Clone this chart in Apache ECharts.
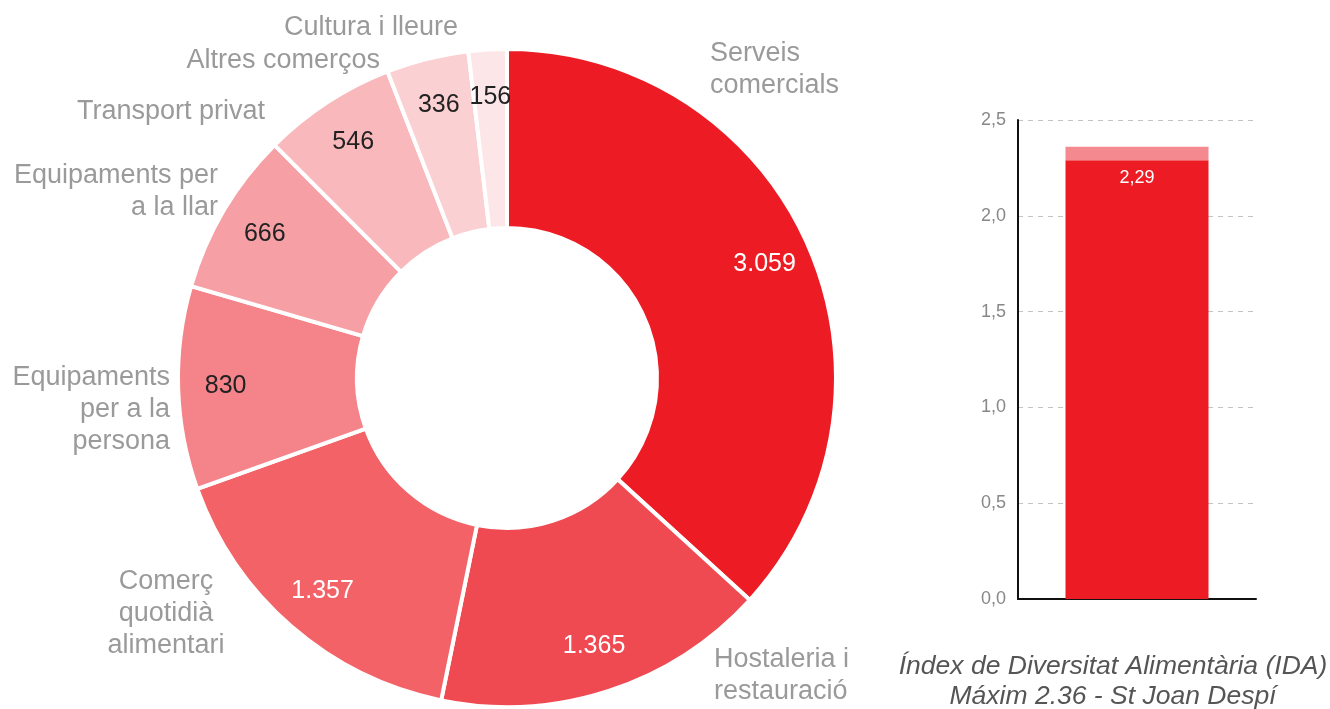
<!DOCTYPE html>
<html>
<head>
<meta charset="utf-8">
<title>Activitats comercials - St Joan Despí</title>
<script src="https://cdn.jsdelivr.net/npm/echarts@6/dist/echarts.min.js"></script>
<style>
  html, body { margin: 0; padding: 0; background: #fff; }
  #chart { width: 1330px; height: 709px; }
</style>
</head>
<body>
<div id="chart"></div>
<script>
// dades del donut (sentit horari des de dalt)
const categories = [
  "Serveis\ncomercials",
  "Hostaleria i\nrestauració",
  "Comerç\nquotidià\nalimentari",
  "Equipaments\nper a la\npersona",
  "Equipaments per\na la llar",
  "Transport privat",
  "Altres comerços",
  "Cultura i lleure"
];
const values = [3059, 1365, 1357, 830, 666, 546, 336, 156];
const sliceColors = ["#ed1c24", "#ef4a52", "#f26267", "#f4838a", "#f6a0a5", "#f9b8bb", "#fbd0d2", "#fde6e7"];
const valueColors = ["#fff", "#fff", "#fff", "#222", "#222", "#222", "#222", "#222"];
// on va cada etiqueta de nom: [x, y, align]
const nameAnchors = [
  [710, 70, "left"],
  [714, 676, "left"],
  [166, 614, "center"],
  [170, 410, "right"],
  [218, 192, "right"],
  [265, 112, "right"],
  [380, 61, "right"],
  [458, 28, "right"]
];

// dades de l'índex IDA
const idaCategory = ["IDA"];
const idaValue = [2.29];
const idaToMax = [0.07];
const yTicks = [0, 0.5, 1, 1.5, 2, 2.5];

const font = "'Liberation Sans', Arial, sans-serif";

function fmtThousands(v) {
  if (v < 1000) return String(v);
  return Math.floor(v / 1000) + "." + String(v % 1000).padStart(3, "0");
}

const chart = echarts.init(document.getElementById("chart"));

chart.setOption({
  animation: false,
  textStyle: { fontFamily: font },
  title: {
    text: "Índex de Diversitat Alimentària (IDA)\nMáxim 2.36 - St Joan Despí",
    left: 1108,
    top: 647,
    textAlign: "center",
    textStyle: {
      fontFamily: font,
      fontStyle: "italic",
      fontWeight: "normal",
      fontSize: 26.5,
      lineHeight: 30,
      color: "#555"
    }
  },
  grid: { left: 1018, top: 120, width: 238, height: 479 },
  xAxis: {
    type: "category",
    data: idaCategory,
    axisLine: { lineStyle: { color: "#111", width: 2 } },
    axisTick: { show: false },
    axisLabel: { show: false }
  },
  yAxis: {
    type: "value",
    min: yTicks[0],
    max: yTicks[yTicks.length - 1],
    interval: 0.5,
    axisLine: { show: true, lineStyle: { color: "#111", width: 2 } },
    axisTick: { show: false },
    axisLabel: {
      color: "#888",
      fontSize: 18,
      margin: 12,
      formatter: (v) => v.toFixed(1).replace(".", ",")
    },
    splitLine: { lineStyle: { color: "#c4c4c4", type: [5, 5], width: 1 } }
  },
  series: [
    {
      type: "pie",
      center: [507, 378],
      radius: [150, 329],
      startAngle: 90,
      clockwise: true,
      avoidLabelOverlap: false,
      silent: true,
      itemStyle: { borderColor: "#fff", borderWidth: 4 },
      label: {
        show: true,
        position: "outside",
        formatter: "{b}",
        color: "#9a9a9a",
        fontSize: 27,
        lineHeight: 32
      },
      labelLine: { show: false },
      labelLayout: (p) => {
        const a = nameAnchors[p.dataIndex];
        return { x: a[0], y: a[1], align: a[2], verticalAlign: "middle", hideOverlap: false };
      },
      data: categories.map((c, i) => ({
        name: c,
        value: values[i],
        itemStyle: { color: sliceColors[i] }
      }))
    },
    {
      // capa transparent només per a les xifres
      type: "pie",
      center: [507, 378],
      radius: [230, 327],
      startAngle: 90,
      clockwise: true,
      silent: true,
      z: 5,
      itemStyle: { color: "rgba(0,0,0,0)" },
      label: {
        show: true,
        position: "inside",
        fontSize: 25,
        formatter: (p) => fmtThousands(p.value)
      },
      labelLine: { show: false },
      data: values.map((v, i) => ({
        name: categories[i],
        value: v,
        label: { color: valueColors[i] }
      }))
    },
    {
      type: "bar",
      stack: "ida",
      barWidth: 143,
      data: idaValue,
      itemStyle: { color: "#ed1c24" },
      label: {
        show: true,
        position: "insideTop",
        distance: 9,
        color: "#fff",
        fontSize: 18,
        formatter: (p) => p.value.toFixed(2).replace(".", ",")
      }
    },
    {
      type: "bar",
      stack: "ida",
      barWidth: 143,
      data: idaToMax,
      itemStyle: { color: "#f48a90" }
    }
  ]
});
</script>
</body>
</html>
